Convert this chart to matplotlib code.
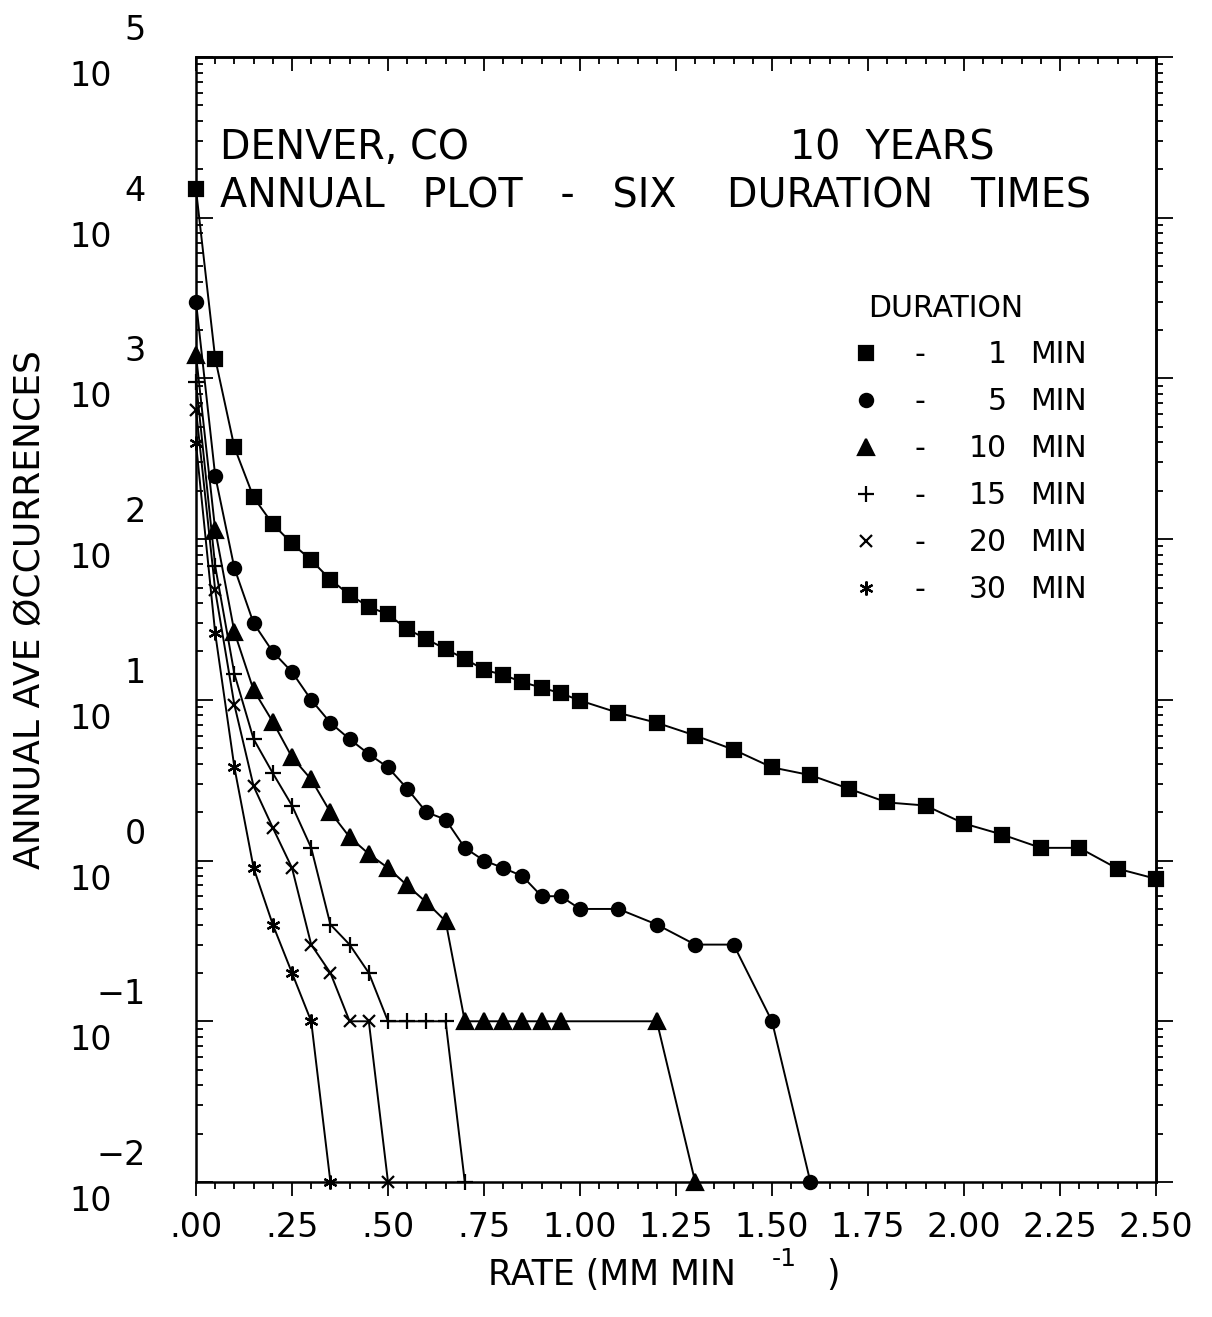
import numpy as np
import matplotlib.pyplot as plt
from matplotlib.ticker import LogLocator, MultipleLocator, NullFormatter

plt.rcParams['font.family'] = ['DejaVu Sans']
plt.rcParams['mathtext.default'] = 'regular'

# rainfall rate thresholds (mm/min) and annual average number of occurrences
rate_1 = [0.00, 0.05, 0.10, 0.15, 0.20, 0.25, 0.30, 0.35, 0.40, 0.45, 0.50,
          0.55, 0.60, 0.65, 0.70, 0.75, 0.80, 0.85, 0.90, 0.95, 1.00,
          1.10, 1.20, 1.30, 1.40, 1.50, 1.60, 1.70, 1.80, 1.90, 2.00,
          2.10, 2.20, 2.30, 2.40, 2.50]
occ_1 = [15000, 1330, 373, 182, 124, 94, 74, 56, 45, 38, 34,
         27.6, 23.9, 20.7, 18.0, 15.4, 14.3, 12.9, 11.9, 11.0, 9.9,
         8.3, 7.2, 6.0, 4.9, 3.8, 3.4, 2.8, 2.3, 2.2, 1.7,
         1.45, 1.2, 1.2, 0.89, 0.77]

rate_5 = [0.00, 0.05, 0.10, 0.15, 0.20, 0.25, 0.30, 0.35, 0.40, 0.45, 0.50,
          0.55, 0.60, 0.65, 0.70, 0.75, 0.80, 0.85, 0.90, 0.95, 1.00,
          1.10, 1.20, 1.30, 1.40, 1.50, 1.60]
occ_5 = [3000, 248, 66, 30, 19.9, 14.9, 10.0, 7.2, 5.7, 4.6, 3.8,
         2.8, 2.0, 1.8, 1.2, 1.0, 0.9, 0.8, 0.6, 0.6, 0.5,
         0.5, 0.4, 0.3, 0.3, 0.1, 0]

rate_10 = [0.00, 0.05, 0.10, 0.15, 0.20, 0.25, 0.30, 0.35, 0.40, 0.45, 0.50,
           0.55, 0.60, 0.65, 0.70, 0.75, 0.80, 0.85, 0.90, 0.95, 1.20, 1.30]
occ_10 = [1400, 114, 26.4, 11.5, 7.3, 4.4, 3.2, 2.0, 1.4, 1.1, 0.9,
          0.7, 0.55, 0.42, 0.1, 0.1, 0.1, 0.1, 0.1, 0.1, 0.1, 0]

rate_15 = [0.00, 0.05, 0.10, 0.15, 0.20, 0.25, 0.30, 0.35, 0.40, 0.45, 0.50,
           0.55, 0.60, 0.65, 0.70]
occ_15 = [950, 68, 14.5, 5.7, 3.5, 2.2, 1.2, 0.4, 0.3, 0.2, 0.1,
          0.1, 0.1, 0.1, 0]

rate_20 = [0.00, 0.05, 0.10, 0.15, 0.20, 0.25, 0.30, 0.35, 0.40, 0.45, 0.50]
occ_20 = [640, 48, 9.3, 2.9, 1.6, 0.9, 0.3, 0.2, 0.1, 0.1, 0]

rate_30 = [0.00, 0.05, 0.10, 0.15, 0.20, 0.25, 0.30, 0.35]
occ_30 = [395, 26, 3.8, 0.9, 0.4, 0.2, 0.1, 0]

durations = ['1', '5', '10', '15', '20', '30']
rates = [rate_1, rate_5, rate_10, rate_15, rate_20, rate_30]
occs = [occ_1, occ_5, occ_10, occ_15, occ_20, occ_30]

x_major = [0.0, 0.25, 0.5, 0.75, 1.0, 1.25, 1.5, 1.75, 2.0, 2.25, 2.5]
x_labels = ['.00', '.25', '.50', '.75', '1.00', '1.25', '1.50', '1.75',
            '2.00', '2.25', '2.50']
decades = [-2, -1, 0, 1, 2, 3, 4, 5]

markers = ['s', 'o', '^', '+', 'x', (6, 2, 0)]
msizes = [9.5, 9.5, 11, 11, 9, 10]
FLOOR = 1e-2  # zero counts sit on the bottom axis

W, H = 1212, 1317
AX_L, AX_R, AX_T, AX_B = 196, 1156, 57, 1182

fig = plt.figure(figsize=(W / 100, H / 100), dpi=100)
ax = fig.add_axes([AX_L / W, 1 - AX_B / H, (AX_R - AX_L) / W, (AX_B - AX_T) / H])
ax.set_yscale('log')


def ax_xy(px, py):
    # pixel position on the page -> axes fraction
    return (px - AX_L) / (AX_R - AX_L), (AX_B - py) / (AX_B - AX_T)


def fig_xy(px, py):
    return px / W, 1 - py / H


for x, y, m, ms in zip(rates, occs, markers, msizes):
    y = np.where(np.asarray(y, dtype=float) > 0, y, FLOOR)
    ax.plot(x, y, color='black', lw=1.4, marker=m, ms=ms, mfc='black',
            mec='black', mew=1.6, clip_on=False, zorder=3)

ax.set_xlim(0, 2.5)
ax.set_ylim(1e-2, 1e5)

for s in ax.spines.values():
    s.set_linewidth(1.8)

# bottom / left ticks
ax.set_xticks(x_major, labels=x_labels, fontsize=24)
ax.xaxis.set_minor_locator(MultipleLocator(0.05))
ax.tick_params(axis='x', which='both', direction='out', top=False, width=1.3, pad=11)
ax.tick_params(axis='x', which='major', length=10)
ax.tick_params(axis='x', which='minor', length=5)

ax.yaxis.set_major_locator(LogLocator(base=10, numticks=20))
ax.yaxis.set_minor_locator(LogLocator(base=10, subs=np.arange(2, 10), numticks=20))
ax.yaxis.set_major_formatter(NullFormatter())
ax.yaxis.set_minor_formatter(NullFormatter())
ax.tick_params(axis='y', which='both', direction='in', right=False, width=1.3)
ax.tick_params(axis='y', which='major', length=12)
ax.tick_params(axis='y', which='minor', length=5)

# top / right ticks
top = ax.secondary_xaxis('top')
top.set_xticks(x_major, labels=[])
top.xaxis.set_minor_locator(MultipleLocator(0.05))
top.tick_params(which='both', direction='in', width=1.3)
top.tick_params(which='major', length=10)
top.tick_params(which='minor', length=5)
top.spines['top'].set_linewidth(1.8)

right = ax.secondary_yaxis('right')
right.yaxis.set_major_locator(LogLocator(base=10, numticks=20))
right.yaxis.set_minor_locator(LogLocator(base=10, subs=np.arange(2, 10), numticks=20))
right.yaxis.set_major_formatter(NullFormatter())
right.yaxis.set_minor_formatter(NullFormatter())
right.tick_params(which='both', direction='out', width=1.3)
right.tick_params(which='major', length=12)
right.tick_params(which='minor', length=5)
right.spines['right'].set_linewidth(1.8)

# power-of-ten labels with raised exponents
ytrans = ax.get_yaxis_transform()
for k in decades:
    ax.annotate('10', xy=(0, 10.0 ** k), xycoords=ytrans, xytext=(-84, -29),
                textcoords='offset pixels', ha='right', va='baseline', fontsize=24)
    ax.annotate(str(k).replace('-', '\u2212'), xy=(0, 10.0 ** k), xycoords=ytrans,
                xytext=(-50, 17), textcoords='offset pixels', ha='right',
                va='baseline', fontsize=24)

fig.text(*fig_xy(30, 610), 'ANNUAL AVE ØCCURRENCES', rotation=90,
         ha='center', va='center', fontsize=26)
# x label with raised exponent
fig.text(*fig_xy(488, 1285), 'RATE (MM MIN', ha='left', va='baseline', fontsize=25)
fig.text(*fig_xy(772, 1266), '-1', ha='left', va='baseline', fontsize=18)
fig.text(*fig_xy(826, 1285), ')', ha='left', va='baseline', fontsize=25)

# header text
ax.text(*ax_xy(220, 159), 'DENVER, CO', transform=ax.transAxes,
        fontsize=28.5, va='baseline')
ax.text(*ax_xy(790, 159), '10  YEARS', transform=ax.transAxes,
        fontsize=28.5, va='baseline')
ax.text(*ax_xy(220, 207), 'ANNUAL   PLOT   -   SIX    DURATION   TIMES',
        transform=ax.transAxes, fontsize=28.5, va='baseline')

# duration key
ax.text(*ax_xy(868, 317), 'DURATION', transform=ax.transAxes,
        fontsize=21.5, va='baseline')
for i, (d, m, ms) in enumerate(zip(durations, markers, msizes)):
    base = 363 + 47 * i
    mx, my = ax_xy(866, base - 10)
    ax.plot([mx], [my], transform=ax.transAxes, linestyle='none', marker=m,
            ms=ms, mfc='black', mec='black', mew=1.6, clip_on=False)
    ax.text(*ax_xy(920, base), '-', transform=ax.transAxes, fontsize=21.5,
            ha='center', va='baseline')
    ax.text(*ax_xy(1007, base), d, transform=ax.transAxes, fontsize=21.5,
            ha='right', va='baseline')
    ax.text(*ax_xy(1030, base), 'MIN', transform=ax.transAxes, fontsize=21.5,
            ha='left', va='baseline')

fig.savefig('out.png', dpi=100, facecolor='white')
